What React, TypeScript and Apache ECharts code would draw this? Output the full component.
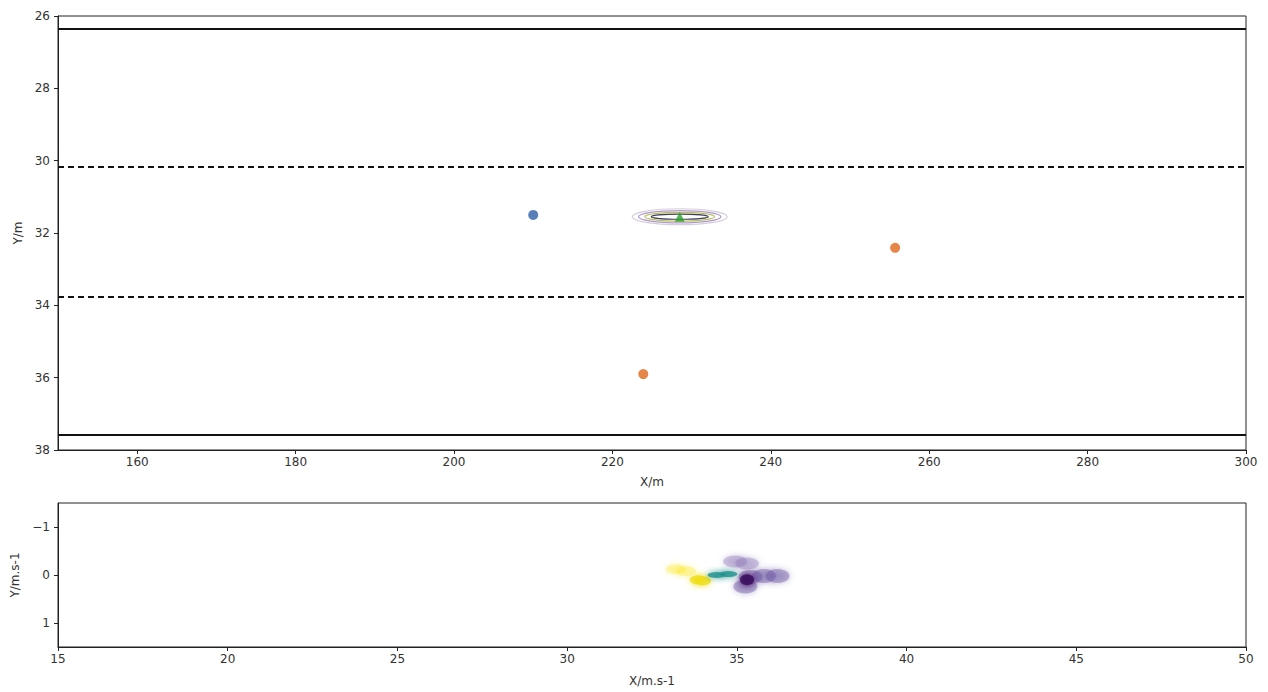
import React, { useEffect, useRef } from "react";
import * as echarts from "echarts";

// ---- data ----
const xRangeTop = [150, 300];
const yRangeTop = [26, 38];
const solidLines = [26.36, 37.59];
const dashedLines = [30.17, 33.76];
const bluePoints = [[210.0, 31.5]];
const greenPoints = [[228.5, 31.55]];
const orangePoints = [
  [255.7, 32.41],
  [223.9, 35.9],
];
// ellipses: [cx, cy, rx, ry, colorIndex]
const ellipses = [
  [228.5, 31.55, 6.0, 0.22, 0],
  [228.5, 31.55, 5.2, 0.17, 1],
  [228.5, 31.55, 4.4, 0.12, 2],
  [228.5, 31.55, 3.6, 0.07, 3],
];
const ellipseColors = ["#cfc8d8", "#a58cc8", "#b0b848", "#2a2a50"];

const xRangeBottom = [15, 50];
const yRangeBottom = [-1.5, 1.5];
const velYellowFaint = [
  [33.2, -0.12],
  [33.5, -0.08],
];
const velYellow = [
  [33.85, 0.1],
  [34.0, 0.12],
];
const velTeal = [
  [34.4, 0.0],
  [34.75, -0.02],
];
const velPurpleLight = [
  [34.95, -0.28],
  [35.3, -0.24],
];
const velPurple = [
  [35.4, 0.04],
  [35.8, 0.02],
  [36.2, 0.02],
  [35.25, 0.24],
];
const velPurpleDark = [
  [35.3, 0.1],
];

const FONT = "DejaVu Sans";
const minus = (v: number) => (v < 0 ? "\u2212" + Math.abs(v) : String(v));

export default function App() {
  const ref = useRef<HTMLDivElement>(null);
  useEffect(() => {
    document.body.style.margin = "0";
    const chart = echarts.init(ref.current!, undefined, { renderer: "svg" });
    const axisCommon = {
      axisLine: { show: true, onZero: false, lineStyle: { color: "#222", width: 1 } },
      axisTick: { show: true, inside: false, length: 4, lineStyle: { color: "#222" } },
      splitLine: { show: false },
      axisLabel: { color: "#333", fontFamily: FONT, fontSize: 12, formatter: minus },
      nameTextStyle: { color: "#333", fontFamily: FONT, fontSize: 12 },
    };
    const scatterBlob = (data: number[][], color: string, opacity: number, size: number[]) => ({
      type: "scatter",
      xAxisIndex: 1,
      yAxisIndex: 1,
      data,
      symbolSize: size,
      itemStyle: { color, opacity, shadowBlur: 6, shadowColor: color },
      silent: true,
    });
    chart.setOption({
      animation: false,
      grid: [
        { left: 58, right: 22, top: 16, height: 434, show: true, borderColor: "#222", borderWidth: 1 },
        { left: 58, right: 22, top: 503, height: 144, show: true, borderColor: "#222", borderWidth: 1 },
      ],
      xAxis: [
        {
          ...axisCommon,
          gridIndex: 0,
          type: "value",
          min: xRangeTop[0],
          max: xRangeTop[1],
          splitNumber: 8,
          axisLabel: { ...axisCommon.axisLabel, showMinLabel: false, margin: 6 },
          name: "X/m",
          nameLocation: "middle",
          nameGap: 26,
        },
        {
          ...axisCommon,
          gridIndex: 1,
          type: "value",
          min: xRangeBottom[0],
          max: xRangeBottom[1],
          interval: 5,
          axisLabel: { ...axisCommon.axisLabel, margin: 6 },
          name: "X/m.s-1",
          nameLocation: "middle",
          nameGap: 28,
        },
      ],
      yAxis: [
        {
          ...axisCommon,
          gridIndex: 0,
          type: "value",
          inverse: true,
          min: yRangeTop[0],
          max: yRangeTop[1],
          interval: 2,
          name: "Y/m",
          nameLocation: "middle",
          nameGap: 34,
        },
        {
          ...axisCommon,
          gridIndex: 1,
          type: "value",
          inverse: true,
          min: yRangeBottom[0],
          max: yRangeBottom[1],
          splitNumber: 3,
          axisLabel: { ...axisCommon.axisLabel, showMinLabel: false, showMaxLabel: false },
          name: "Y/m.s-1",
          nameLocation: "middle",
          nameGap: 34,
        },
      ],
      series: [
        {
          type: "line",
          xAxisIndex: 0,
          yAxisIndex: 0,
          data: [],
          markLine: {
            silent: true,
            symbol: "none",
            label: { show: false },
            data: [
              ...solidLines.map((y) => ({ yAxis: y, lineStyle: { color: "#111", width: 2, type: "solid" } })),
              ...dashedLines.map((y) => ({ yAxis: y, lineStyle: { color: "#111", width: 2, type: [6, 4] } })),
            ],
          },
        },
        {
          type: "custom",
          xAxisIndex: 0,
          yAxisIndex: 0,
          data: ellipses,
          silent: true,
          renderItem: (params: any, api: any) => {
            const c = api.coord([api.value(0), api.value(1)]);
            const s = api.size([api.value(2), api.value(3)]);
            return {
              type: "ellipse",
              shape: { cx: c[0], cy: c[1], rx: Math.abs(s[0]), ry: Math.abs(s[1]) },
              style: { fill: "none", stroke: ellipseColors[api.value(4)], lineWidth: 1.2, opacity: 0.9 },
            };
          },
        },
        {
          type: "scatter",
          xAxisIndex: 0,
          yAxisIndex: 0,
          data: bluePoints,
          symbolSize: 10,
          itemStyle: { color: "#2f5fa8" },
        },
        {
          type: "scatter",
          xAxisIndex: 0,
          yAxisIndex: 0,
          data: orangePoints,
          symbolSize: 10,
          itemStyle: { color: "#e0661a" },
        },
        {
          type: "scatter",
          xAxisIndex: 0,
          yAxisIndex: 0,
          data: greenPoints,
          symbol: "triangle",
          symbolSize: 10,
          itemStyle: { color: "#2ca02c" },
        },
        scatterBlob(velYellowFaint, "#fde725", 0.3, [20, 10]),
        scatterBlob(velPurpleLight, "#8a74b4", 0.35, [24, 12]),
        scatterBlob(velPurple, "#6a52a0", 0.4, [24, 14]),
        scatterBlob(velYellow, "#f0df1a", 0.8, [16, 9]),
        scatterBlob(velTeal, "#21918c", 0.8, [18, 6]),
        scatterBlob(velPurpleDark, "#3b0b5c", 0.85, [14, 11]),
      ],
    });
    return () => chart.dispose();
  }, []);
  return <div ref={ref} style={{ width: 1268, height: 692 }} />;
}
